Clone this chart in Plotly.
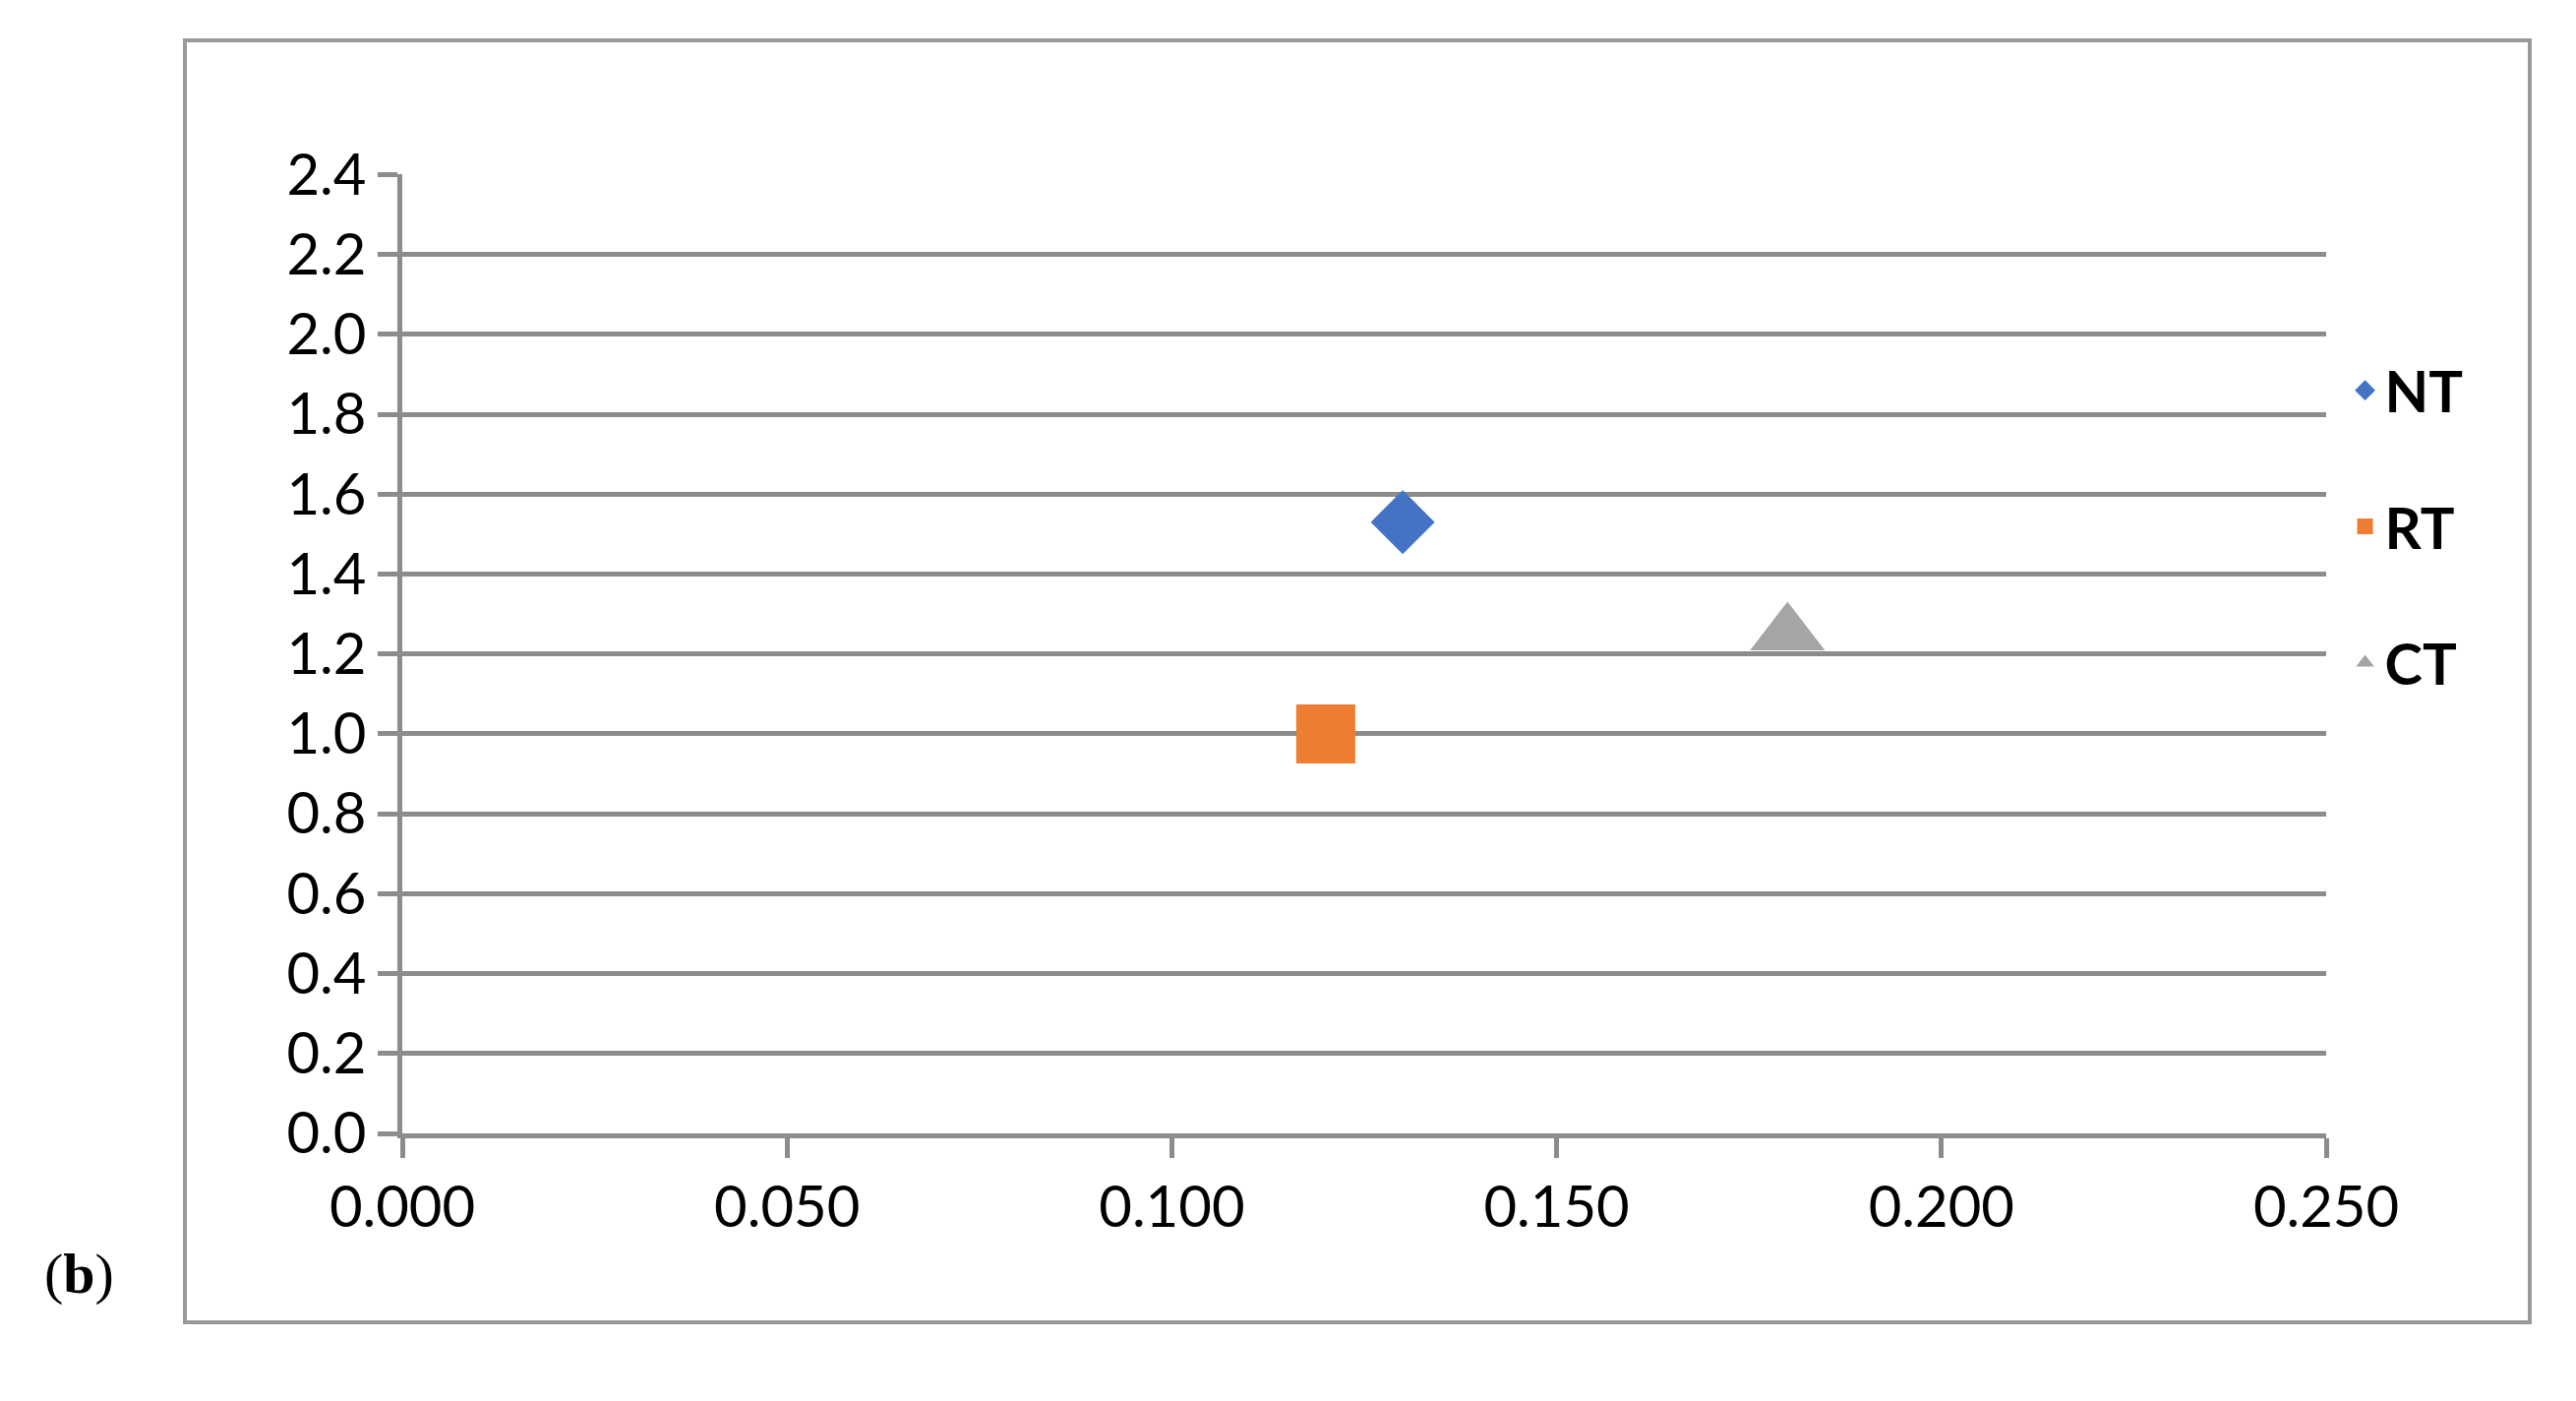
import plotly.graph_objects as go

series = ["NT", "RT", "CT"]
x_vals = [0.130, 0.120, 0.180]
y_vals = [1.53, 1.00, 1.25]
colors = ["#4472C4", "#ED7D31", "#A5A5A5"]
symbols = ["diamond", "square", "triangle-up"]
sizes = [50, 60, 66]

fig = go.Figure()
for i, name in enumerate(series):
    fig.add_trace(go.Scatter(x=[x_vals[i]], y=[y_vals[i]], mode="markers", name="<b>" + name + "</b>",
                             legendgroup=name,
                             marker=dict(symbol=symbols[i], size=sizes[i], color=colors[i])))

grid = "#8c8c8c"
fig.update_layout(
    width=2619, height=1424, paper_bgcolor="white", plot_bgcolor="white",
    margin=dict(l=401, r=2619-2357, t=169, b=1424-1144),
    font=dict(family="Lato", size=58, color="black"),
    xaxis=dict(range=[0, 0.25], dtick=0.05, tickformat=".3f", showgrid=False,
               showline=True, linecolor=grid, linewidth=5, ticks="outside",
               ticklen=20, tickwidth=5, tickcolor=grid, zeroline=False),
    yaxis=dict(range=[0, 2.401], dtick=0.2, tickformat=".1f", showgrid=True,
               gridcolor=grid, gridwidth=5, showline=True, linecolor=grid, linewidth=5,
               ticks="outside", ticklen=20, tickwidth=5, tickcolor=grid, zeroline=False),
    legend=dict(x=1.01, y=0.82, xanchor="left", yanchor="top", tracegroupgap=60,
                font=dict(size=58, family="Lato", color="black"), itemsizing="trace"),
    shapes=[dict(type="rect", xref="paper", yref="paper",
                 x0=(180-401)/1956, x1=(2564-401)/1956,
                 y0=(1144-1336)/975, y1=(1144-33)/975,
                 line=dict(color="#999999", width=4))],
    annotations=[dict(text="(<b>b</b>)", xref="paper", yref="paper", showarrow=False,
                      x=(35-401)/1956, y=(1144-1286)/975, xanchor="left", yanchor="middle",
                      font=dict(family="Liberation Serif", size=58))],
)
fig.write_html("out.html")
